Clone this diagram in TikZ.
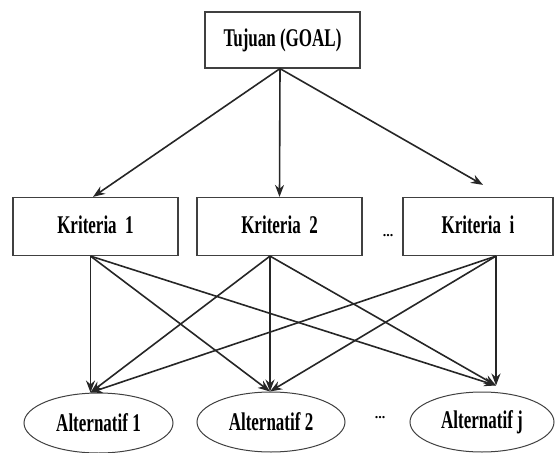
\documentclass[tikz,border=0pt]{standalone}
\usepackage{graphicx}
\usepackage{fontspec}
\setmainfont{Liberation Serif}
\usepackage{tikz}
\usetikzlibrary{arrows.meta, shapes.geometric}

% tall bold text, as in the scanned figure
\newcommand{\tinggi}[1]{\scalebox{1}[1.5]{#1}}

\begin{document}
\begin{tikzpicture}[x=1pt,y=-1pt,>={Stealth[length=12pt,width=9pt]},
  kotak/.style={draw=black!75,line width=1.2pt,minimum height=58pt,inner sep=0pt,
    font=\bfseries\fontsize{17}{20}\selectfont},
  alt/.style={ellipse,draw=black!75,line width=1pt,minimum height=60pt,inner sep=0pt,
    font=\bfseries\fontsize{17}{20}\selectfont},
  titik/.style={font=\bfseries\fontsize{14}{16}\selectfont},
  panah/.style={->,draw=black!85,line width=1.6pt}]
\useasboundingbox (0,0) rectangle (555,453);

% Goal
\node[kotak,minimum width=155pt,minimum height=56pt] (goal) at (282.5,40) {\tinggi{Tujuan (GOAL)}};

% Criteria
\node[kotak,minimum width=165pt] (k1) at (95.5,226.5) {\raisebox{4pt}{\tinggi{Kriteria~~1}}};
\node[kotak,minimum width=165pt] (k2) at (279.5,226.5) {\raisebox{4pt}{\tinggi{Kriteria~~2}}};
\node[kotak,minimum width=150pt] (ki) at (478,226.5) {\raisebox{4pt}{\tinggi{Kriteria~~i}}};
\node[titik] (dotk) at (388,236) {...};

% Alternatives
\node[alt,minimum width=149pt] (a1) at (98.5,423) {\tinggi{Alternatif 1}};
\node[alt,minimum width=148pt] (a2) at (271,422) {\tinggi{Alternatif 2}};
\node[alt,minimum width=144pt] (aj) at (482,422) {\tinggi{Alternatif j}};
\node[titik] (dota) at (380,418) {...};

% goal -> criteria
\coordinate (gb) at ([xshift=-2.5pt]goal.south);
\coordinate (kitop) at ([xshift=5pt,yshift=12pt]ki.north);
\draw[panah] (gb) -- ([xshift=-2.5pt]k1.north);
\draw[panah] (gb) -- (k2.north);
\draw[panah] (gb) -- (kitop);

% criteria -> alternatives
\coordinate (ajtop) at ([xshift=14pt,yshift=6pt]aj.north);
\foreach \k/\dx in {k1/-5pt, k2/-9.5pt, ki/18pt}{
  \draw[panah] ([xshift=\dx]\k.south) -- ([xshift=-8pt]a1.north);
  \draw[panah] ([xshift=\dx]\k.south) -- ([xshift=-1pt]a2.north);
  \draw[panah] ([xshift=\dx]\k.south) -- (ajtop);
}
\end{tikzpicture}
\end{document}
